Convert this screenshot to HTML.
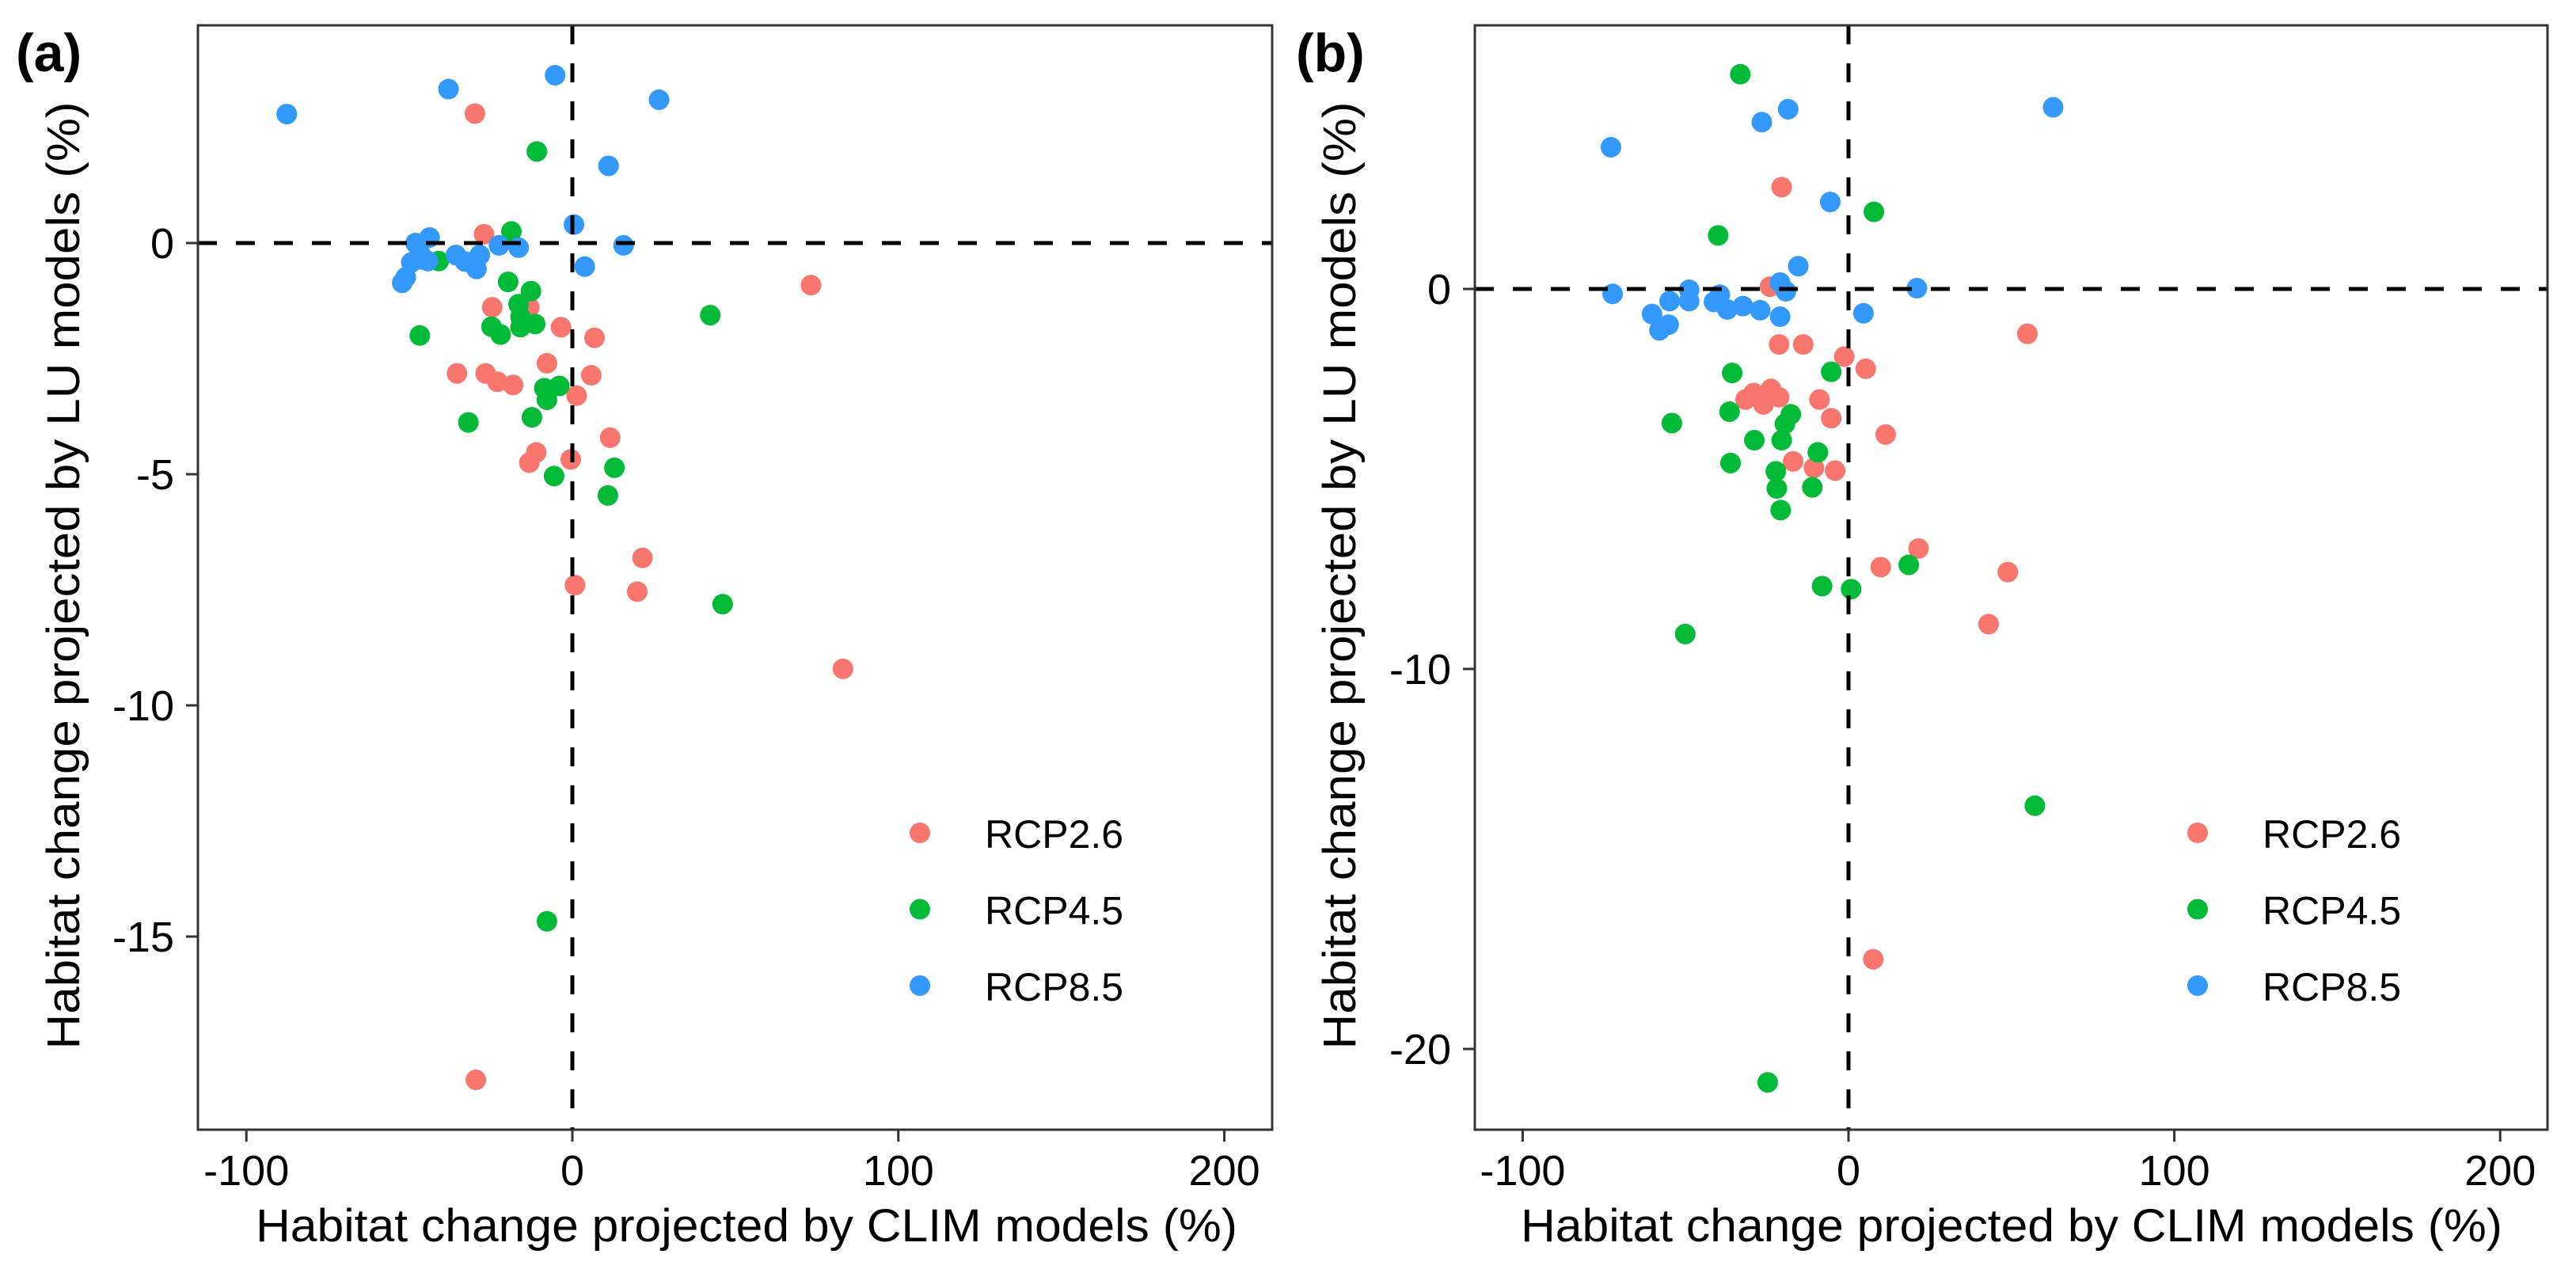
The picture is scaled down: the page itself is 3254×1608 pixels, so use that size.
<!DOCTYPE html>
<html><head><meta charset="utf-8"><style>
html,body{margin:0;padding:0;background:#fff;}
svg{display:block;font-family:"Liberation Sans",sans-serif;}
</style></head><body>
<svg id="chart" width="3254" height="1608" viewBox="0 0 3254 1608" xmlns="http://www.w3.org/2000/svg"></svg>
<script>
// Panel (a) data
const aRcp26X=[-29.9,-27.1,-24.6,-13.2,-3.5,6.8,-7.8,-35.4,-26.6,-23,-18.2,5.8,1.3,11.6,-11.1,-13.2,-0.5,73.2,21.5,0.8,19.9,83,-29.6];
const aRcp26Y=[2.8,0.19,-1.39,-1.39,-1.82,-2.05,-2.6,-2.82,-2.82,-3.0,-3.07,-2.86,-3.3,-4.21,-4.53,-4.75,-4.68,-0.91,-6.81,-7.4,-7.54,-9.21,-18.1];
const aRcp45X=[-10.9,-18.7,-19.7,-12.7,-41,-16.5,-15.9,-15.9,-11.4,-24.8,-22,-46.8,42.3,-8.6,-4,-7.8,-31.9,-12.4,-5.6,12.9,10.9,46.1,-7.8];
const aRcp45Y=[1.98,0.25,-0.84,-1.04,-0.39,-1.32,-1.6,-1.82,-1.75,-1.81,-1.98,-2.0,-1.56,-3.14,-3.09,-3.39,-3.88,-3.77,-5.04,-4.86,-5.46,-7.81,-14.67];
const aRcp85X=[-87.6,-38,-5.3,26.6,11.1,0.5,15.7,3.8,-16.5,-22.5,-28.4,-29.4,-32.9,-35.7,-43.8,-48.1,-46.8,-49.4,-52.2,-51.1,-44.3,-46.3];
const aRcp85Y=[2.79,3.33,3.63,3.1,1.67,0.40,-0.05,-0.51,-0.1,-0.05,-0.26,-0.56,-0.4,-0.26,0.12,0,-0.21,-0.42,-0.86,-0.74,-0.39,-0.35];
// Panel (b) data
const bRcp26X=[-20.5,-24.1,-21.3,-13.9,-1.3,5.3,54.9,-23.8,-29.1,-31.6,-26.1,-21.3,-8.9,-5.3,11.4,-17,-10.6,-4.1,21.5,9.9,48.9,43,7.6];
const bRcp26Y=[2.68,0.06,-1.46,-1.46,-1.78,-2.1,-1.18,-2.63,-2.74,-2.91,-3.04,-2.85,-2.91,-3.4,-3.83,-4.54,-4.71,-4.78,-6.83,-7.32,-7.45,-8.82,-17.64];
const bRcp45X=[-33.2,7.8,-40,-35.7,-5.3,-36.5,-54.2,-17.7,-19.5,-28.9,-20.5,-9.4,-36.2,-22.3,-22,-11.1,-20.8,18.5,-8.1,0.8,-50.1,57.2,-24.8];
const bRcp45Y=[5.65,2.03,1.41,-2.21,-2.18,-3.23,-3.53,-3.3,-3.55,-3.98,-3.98,-4.3,-4.58,-4.8,-5.25,-5.22,-5.82,-7.26,-7.82,-7.9,-9.08,-13.6,-20.88];
const bRcp85X=[-72.9,-26.6,-18.5,62.8,-5.6,-15.4,-21,-19.2,21,4.6,-21,-27.1,-32.4,-37.2,-39.5,-41.3,-48.9,-48.9,-54.9,-60.3,-58,-55.2,-72.4];
const bRcp85Y=[3.73,4.39,4.73,4.78,2.29,0.6,0.17,-0.06,0.02,-0.64,-0.73,-0.56,-0.45,-0.54,-0.15,-0.34,-0.02,-0.32,-0.32,-0.66,-1.09,-0.94,-0.13];
const xTicks=[-100,0,100,200];
const aYTicks=[0,-5,-10,-15];
const bYTicks=[0,-10,-20];
const seriesNames=["RCP2.6","RCP4.5","RCP8.5"];
const colors=["#F8766D","#00BA38","#3399FF"];

const NS="http://www.w3.org/2000/svg";
const svg=document.getElementById('chart');
function mk(tag,attrs,parent,text){const e=document.createElementNS(NS,tag);for(const k in attrs)e.setAttribute(k,attrs[k]);if(text!==undefined)e.textContent=text;(parent||svg).appendChild(e);return e;}

function panel(p){
  const g=mk('g',{});
  
  
  const sx=v=>p.x0+v*p.kx, sy=v=>p.y0-v*p.ky;
  p.series.forEach((s,si)=>{
    s.x.forEach((xv,i)=>{
      const c=mk('circle',{cx:sx(xv),cy:sy(s.y[i]),r:13,fill:colors[si]},g);
      
      
    });
  });
  const hl=mk('line',{x1:p.L,x2:p.R,y1:sy(0),y2:sy(0),stroke:'#000','stroke-width':5,'stroke-dasharray':'24 24'},g);
  
  
  const vl=mk('line',{x1:sx(0),x2:sx(0),y1:p.T,y2:p.B,stroke:'#000','stroke-width':5,'stroke-dasharray':'24 24'},g);
  
  
  const fr=mk('rect',{x:p.L,y:p.T,width:p.R-p.L,height:p.B-p.T,fill:'none',stroke:'#333','stroke-width':3},g);
  
  
  xTicks.forEach(t=>{
    mk('line',{x1:sx(t),x2:sx(t),y1:p.B,y2:p.B+15,stroke:'#333','stroke-width':3},g);
    const tl=mk('text',{x:sx(t),y:p.B+70,'text-anchor':'middle','font-size':54,fill:'#000'},g,String(t));
    
    
  });
  p.yTicks.forEach(t=>{
    mk('line',{x1:p.L-15,x2:p.L,y1:sy(t),y2:sy(t),stroke:'#333','stroke-width':3},g);
    const tl=mk('text',{x:p.L-30,y:sy(t)+19,'text-anchor':'end','font-size':54,fill:'#000'},g,String(t));
    
    
  });
  const xt=mk('text',{x:p.xtc,y:1568,'text-anchor':'middle','font-size':58,textLength:1240,lengthAdjust:'spacingAndGlyphs',fill:'#000'},g,'Habitat change projected by CLIM models (%)');
  
  
  const yt=mk('text',{x:0,y:0,transform:`translate(${p.ytx},727) rotate(-90)`,'text-anchor':'middle','font-size':58,textLength:1197,lengthAdjust:'spacingAndGlyphs',fill:'#000'},g,'Habitat change projected by LU models (%)');
  
  
  const pl=mk('text',{x:p.labx,y:90,'font-size':68,'font-weight':'bold',fill:'#000'},g,'('+p.id+')');
  
  
  seriesNames.forEach((n,i)=>{
    const lg=mk('g',{},g);
    
    
    const y=1052+i*96.5;
    mk('circle',{cx:p.legx,cy:y,r:13,fill:colors[i]},lg);
    mk('text',{x:p.legx+82,y:y+19,'font-size':50,fill:'#000'},lg,n);
  });
}

panel({id:'a',L:250,R:1607,T:32,B:1427,x0:723,kx:4.118,y0:307,ky:58.4,yTicks:aYTicks,ytx:100,xtc:943,labx:20,legx:1162,
  series:[{x:aRcp26X,y:aRcp26Y},{x:aRcp45X,y:aRcp45Y},{x:aRcp85X,y:aRcp85Y}]});
panel({id:'b',L:1863,R:3218,T:32,B:1427,x0:2335,kx:4.116,y0:365,ky:48.0,yTicks:bYTicks,ytx:1712,xtc:2541,labx:1637,legx:2776,
  series:[{x:bRcp26X,y:bRcp26Y},{x:bRcp45X,y:bRcp45Y},{x:bRcp85X,y:bRcp85Y}]});
</script>
</body></html>
